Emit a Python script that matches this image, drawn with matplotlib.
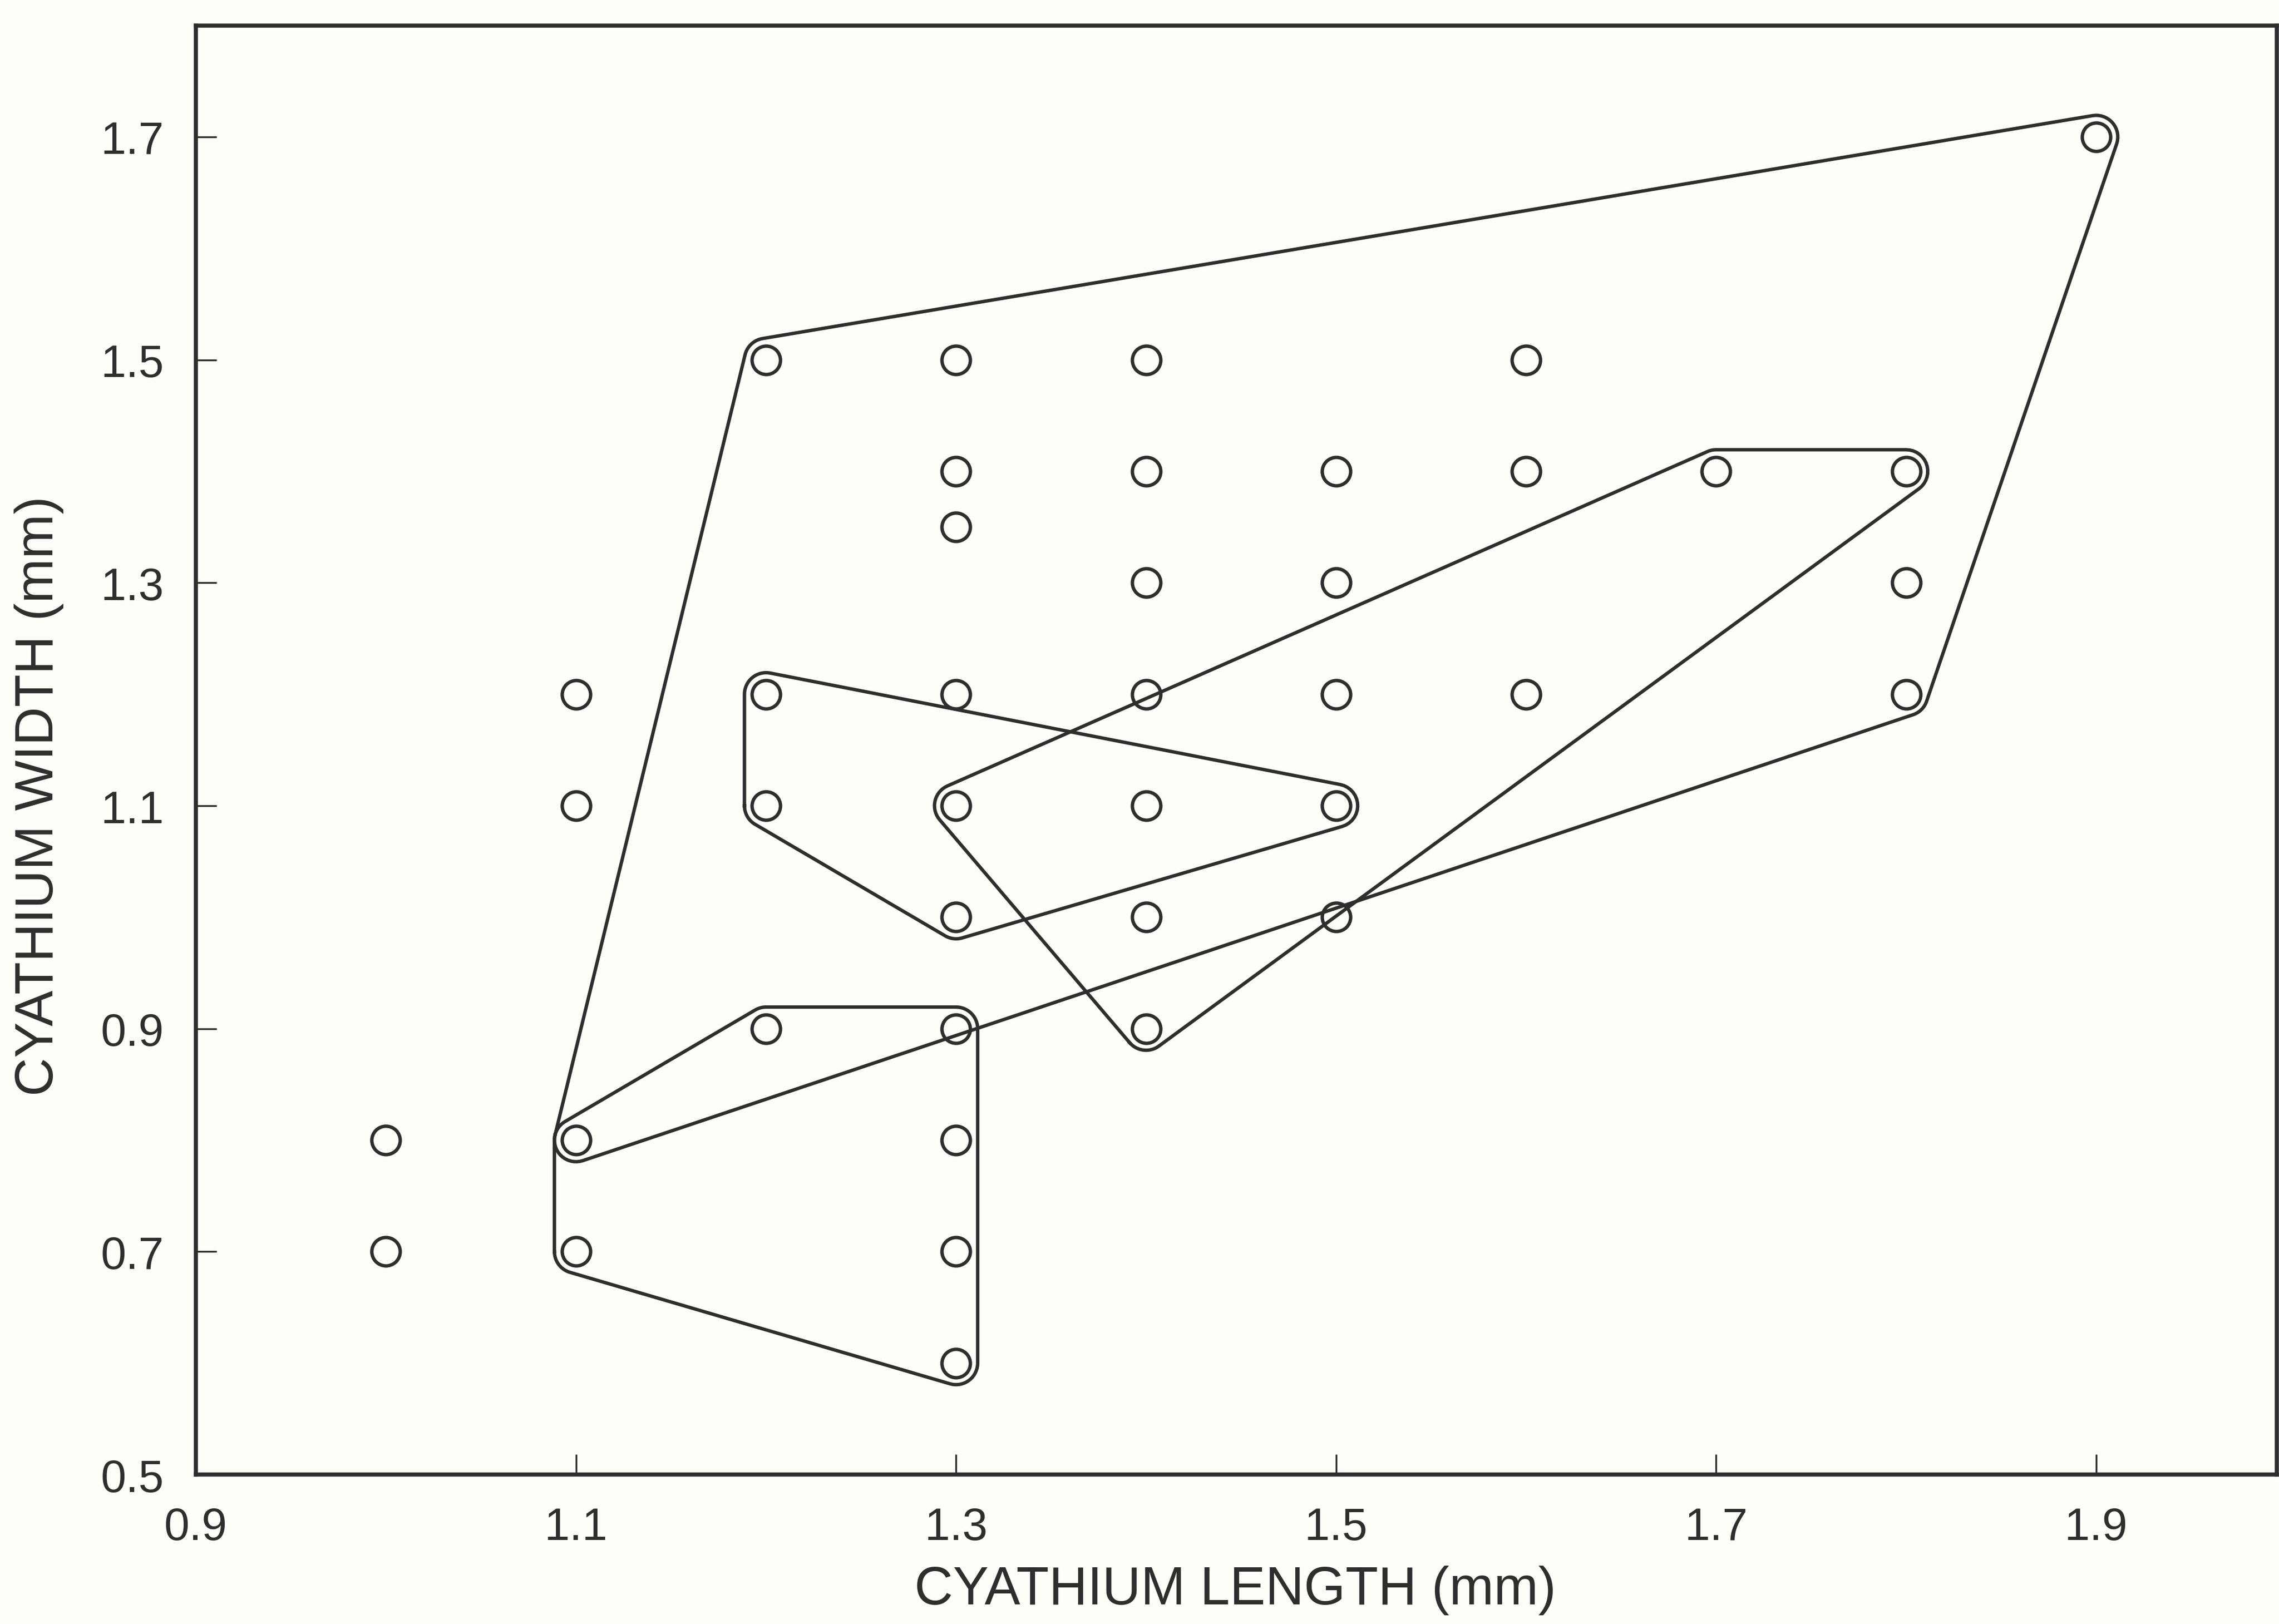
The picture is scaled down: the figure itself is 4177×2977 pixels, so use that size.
import matplotlib.pyplot as plt
import numpy as np

# scatter data: cyathium length vs width (mm)
length_mm = [1.0, 1.0,
             1.1, 1.1, 1.1, 1.1,
             1.2, 1.2, 1.2, 1.2,
             1.3, 1.3, 1.3, 1.3, 1.3, 1.3, 1.3, 1.3, 1.3, 1.3,
             1.4, 1.4, 1.4, 1.4, 1.4, 1.4, 1.4,
             1.5, 1.5, 1.5, 1.5, 1.5,
             1.6, 1.6, 1.6,
             1.7,
             1.8, 1.8, 1.8,
             1.9]
width_mm = [0.8, 0.7,
            1.2, 1.1, 0.8, 0.7,
            1.5, 1.2, 1.1, 0.9,
            1.5, 1.4, 1.35, 1.2, 1.1, 1.0, 0.9, 0.8, 0.7, 0.6,
            1.5, 1.4, 1.3, 1.2, 1.1, 1.0, 0.9,
            1.4, 1.3, 1.2, 1.1, 1.0,
            1.5, 1.4, 1.2,
            1.4,
            1.4, 1.3, 1.2,
            1.7]

# polygon (hull) vertices enclosing each group
hull_a_x = [1.2, 1.9, 1.8, 1.1]
hull_a_y = [1.5, 1.7, 1.2, 0.8]
hull_b_x = [1.2, 1.5, 1.3, 1.2]
hull_b_y = [1.2, 1.1, 1.0, 1.1]
hull_c_x = [1.3, 1.7, 1.8, 1.4]
hull_c_y = [1.1, 1.4, 1.4, 0.9]
hull_d_x = [1.1, 1.2, 1.3, 1.3, 1.1]
hull_d_y = [0.8, 0.9, 0.9, 0.6, 0.7]

xticks = [0.9, 1.1, 1.3, 1.5, 1.7, 1.9]
yticks = [0.5, 0.7, 0.9, 1.1, 1.3, 1.5, 1.7]

ink = '#2e2e2e'
plt.rcParams['font.family'] = ['Liberation Sans', 'DejaVu Sans']

fig = plt.figure(figsize=(4177 / 300, 2978 / 300), dpi=300, facecolor='#fdfdfa')
ax = fig.add_axes([0.086, 0.092, 0.913, 0.892], facecolor='#fdfdfa')
ax.set_xlim(0.9, 1.995)
ax.set_ylim(0.5, 1.8)


def rounded_hull(xs, ys, r_pt=9.5, n=16):
    # offset the polygon outward by r in screen space, with round corners
    pts = ax.transData.transform(np.column_stack([xs, ys]))
    area = 0.5 * np.sum(pts[:, 0] * np.roll(pts[:, 1], -1) - np.roll(pts[:, 0], -1) * pts[:, 1])
    if area < 0:
        pts = pts[::-1]
    r = r_pt * fig.dpi / 72
    m = len(pts)
    out = []
    for i in range(m):
        p0, p1, p2 = pts[i - 1], pts[i], pts[(i + 1) % m]
        d1 = p1 - p0
        d2 = p2 - p1
        a1 = np.arctan2(d1[1], d1[0]) - np.pi / 2
        a2 = np.arctan2(d2[1], d2[0]) - np.pi / 2
        if a2 < a1:
            a2 += 2 * np.pi
        for a in np.linspace(a1, a2, n):
            out.append(p1 + r * np.array([np.cos(a), np.sin(a)]))
    out.append(out[0])
    return ax.transData.inverted().transform(np.array(out))


for hx, hy in [(hull_a_x, hull_a_y), (hull_b_x, hull_b_y),
               (hull_c_x, hull_c_y), (hull_d_x, hull_d_y)]:
    poly = rounded_hull(hx, hy)
    ax.plot(poly[:, 0], poly[:, 1], color=ink, lw=1.5, solid_joinstyle='round')

ax.plot(length_mm, width_mm, 'o', mfc='none', mec=ink, ms=12.5, mew=1.5)

ax.set_xticks(xticks)
ax.set_yticks(yticks)
ax.set_xticklabels([f'{v:.1f}' for v in xticks])
ax.set_yticklabels([f'{v:.1f}' for v in yticks])
ax.tick_params(direction='in', length=9, width=0.8, colors=ink, labelsize=20, pad=14)
for s in ax.spines.values():
    s.set_linewidth(1.8)
    s.set_color(ink)

fig.text(0.542, 0.021, 'CYATHIUM LENGTH (mm)', ha='center', va='center', fontsize=23.5, color=ink)
fig.text(0.0172, 0.51, 'CYATHIUM WIDTH (mm)', ha='center', va='center', rotation=90, fontsize=23.5, color=ink)

fig.savefig('out.png', dpi=300, facecolor=fig.get_facecolor())
